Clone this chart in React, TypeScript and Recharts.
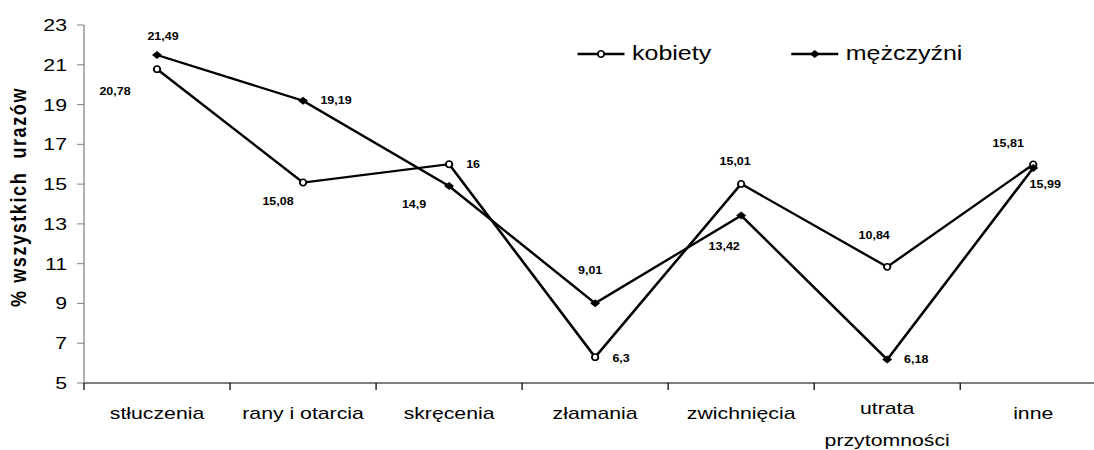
import React from 'react';
import { LineChart, Line, XAxis, YAxis, Legend, LabelList } from 'recharts';

// values
const categories = ['stłuczenia', 'rany i otarcia', 'skręcenia', 'złamania', 'zwichnięcia', 'utrata\nprzytomności', 'inne'];
const kobiety = [20.78, 15.08, 16, 6.3, 15.01, 10.84, 15.99];
const mezczyzni = [21.49, 19.19, 14.9, 9.01, 13.42, 6.18, 15.81];
const yTicks = [5, 7, 9, 11, 13, 15, 17, 19, 21, 23];

// label placement (page px relative to the point), as dragged by hand in the original
const kobietyLabelOffsets = [[-42, 22], [-25, 19], [24, 0], [26, 1], [-6, -22], [-13, -31], [12, 20]];
const mezczyzniLabelOffsets = [[6, -19], [33, 0], [-35, 18], [-5, -33], [-17, 31], [29, 0], [-25, -25]];

const data = categories.map((name, i) => ({ name, kobiety: kobiety[i], mezczyzni: mezczyzni[i] }));

// the original is stretched horizontally, so draw narrower and scale
const SX = 1.25;
const CHART_W = 900;
const CHART_H = 450;
const MARGIN = { top: 25, right: 15, left: 0, bottom: 0 };
const YAXIS_W = 67.2;
const BAND = (CHART_W - MARGIN.right - MARGIN.left - YAXIS_W) / categories.length;
const FONT = 'Arial, "Liberation Sans", sans-serif';

const fmt = (v: number) => String(v).replace('.', ',');

const makeLabel = (offsets: number[][]) => (props: any) => {
  const { x, y, value, index } = props;
  const [dx, dy] = offsets[index] || [0, 0];
  return (
    <text
      x={x + dx / SX}
      y={y + dy}
      textAnchor="middle"
      dominantBaseline="central"
      fontFamily={FONT}
      fontSize={10}
      fontWeight="bold"
      fill="#000"
    >
      {fmt(value)}
    </text>
  );
};

const CircleDot = (props: any) => {
  const { cx, cy, index } = props;
  return <ellipse key={index} cx={cx} cy={cy} rx={3.2 / SX} ry={3.2} fill="#fff" stroke="#000" strokeWidth={1.5} />;
};

const DiamondDot = (props: any) => {
  const { cx, cy, index } = props;
  const h = 4;
  return <path key={index} d={`M${cx},${cy - h}L${cx + h},${cy}L${cx},${cy + h}L${cx - h},${cy}Z`} fill="#000" />;
};

const XTick = (props: any) => {
  const { x, y, payload } = props;
  const lines = String(payload.value).split('\n');
  const bx = x - BAND / 2;
  return (
    <g>
      <line x1={bx} x2={bx} y1={y} y2={y + 7} stroke="#000" strokeWidth={1} />
      <text textAnchor="middle" fontFamily={FONT} fontSize={17} fill="#000">
        {lines.map((l, i) => (
          <tspan key={i} x={x} y={y + (lines.length > 1 ? 31 + i * 32 : 36)}>
            {l}
          </tspan>
        ))}
      </text>
    </g>
  );
};

const LegendContent = () => {
  const items = [
    { name: 'kobiety', marker: 'circle' },
    { name: 'mężczyźni', marker: 'diamond' },
  ];
  return (
    <div style={{ display: 'flex', alignItems: 'center', fontFamily: FONT, fontSize: 20, color: '#000' }}>
      {items.map((it) => (
        <div key={it.name} style={{ display: 'flex', alignItems: 'center', width: 171 }}>
          <svg width={37.6} height={12} style={{ overflow: 'visible' }}>
            <line x1={0} x2={37.6} y1={6} y2={6} stroke="#000" strokeWidth={2.5} />
            {it.marker === 'circle' ? (
              <ellipse cx={18.8} cy={6} rx={3.2 / SX} ry={3.2} fill="#fff" stroke="#000" strokeWidth={1.5} />
            ) : (
              <path d="M18.8,2L22.8,6L18.8,10L14.8,6Z" fill="#000" />
            )}
          </svg>
          <span style={{ marginLeft: 5.6 }}>{it.name}</span>
        </div>
      ))}
    </div>
  );
};

const YTitle = () => (
  <text
    x={14.4}
    y={197}
    transform="rotate(-90, 14.4, 197)"
    textAnchor="middle"
    dominantBaseline="central"
    fontFamily={FONT}
    fontSize={18}
    fontWeight="bold"
    letterSpacing={1.6}
    fill="#000"
    style={{ whiteSpace: 'pre' }}
  >
    {'% wszystkich  urazów'}
  </text>
);

export default function App() {
  return (
    <div style={{ position: 'fixed', left: 0, top: 0, width: 1094, height: 450, overflow: 'hidden', background: '#fff' }}>
      <div style={{ width: CHART_W, height: CHART_H, transform: `scaleX(${SX})`, transformOrigin: '0 0' }}>
        <LineChart width={CHART_W} height={CHART_H} data={data} margin={MARGIN}>
          <XAxis
            dataKey="name"
            scale="band"
            height={67}
            axisLine={{ stroke: '#000', strokeWidth: 1 }}
            tickLine={false}
            tickSize={0}
            tickMargin={0}
            interval={0}
            tick={<XTick />}
          />
          <YAxis
            width={YAXIS_W}
            domain={[5, 23]}
            ticks={yTicks}
            interval={0}
            axisLine={{ stroke: '#808080', strokeWidth: 1 }}
            tickLine={{ stroke: '#808080', strokeWidth: 1 }}
            tickSize={5.6}
            tickMargin={8}
            tick={{ fill: '#000', fontSize: 17, fontFamily: FONT }}
            label={<YTitle />}
          />
          <Legend
            layout="horizontal"
            verticalAlign="middle"
            align="center"
            content={<LegendContent />}
            wrapperStyle={{ top: 42, left: 462.4, width: 'auto' }}
          />
          <Line
            dataKey="kobiety"
            name="kobiety"
            stroke="#000"
            strokeWidth={2.2}
            dot={<CircleDot />}
            activeDot={false}
            isAnimationActive={false}
          >
            <LabelList dataKey="kobiety" content={makeLabel(kobietyLabelOffsets)} />
          </Line>
          <Line
            dataKey="mezczyzni"
            name="mężczyźni"
            stroke="#000"
            strokeWidth={2.2}
            dot={<DiamondDot />}
            activeDot={false}
            isAnimationActive={false}
          >
            <LabelList dataKey="mezczyzni" content={makeLabel(mezczyzniLabelOffsets)} />
          </Line>
        </LineChart>
      </div>
    </div>
  );
}
